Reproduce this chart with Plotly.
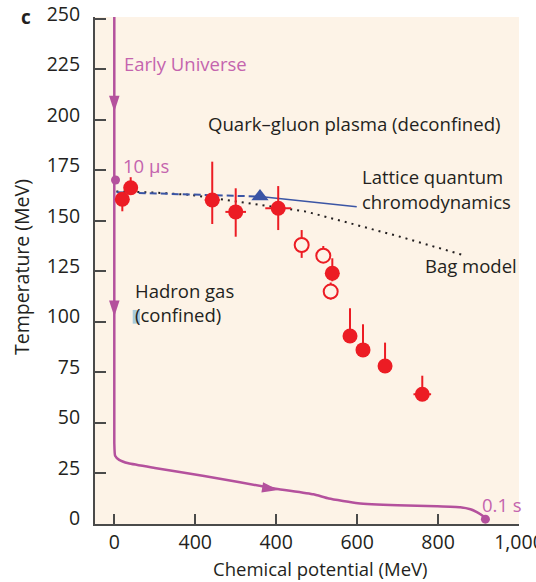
import plotly.graph_objects as go

# ---------------- data ----------------
# Early-Universe trajectory (chemical potential MeV, temperature MeV)
eu_mu = [0, 0, 2, 12, 35, 100, 222, 399, 492, 530, 602, 700, 797, 855, 880, 897, 910, 917]
eu_T = [251, 40, 33.5, 31.5, 29.8, 27.5, 23.5, 17.2, 14.4, 12.3, 10.0, 9.0, 8.5, 8.0, 7.0, 5.5, 3.8, 2.1]
eu_dots_mu = [3, 917]
eu_dots_T = [170.2, 2.1]
arrow_down_mu = [0, 0]
arrow_down_T = [204.0, 102.5]
arrow_right_mu = [405]
arrow_right_T = [16.6]

# Bag model curve
bag_mu = [5, 100, 190, 260, 336, 418, 475, 582, 706, 862]
bag_T = [164.5, 164.0, 162.8, 160.8, 158.7, 156.2, 154.5, 148.8, 142.1, 133.0]

# Lattice QCD
lat_dash_mu = [6, 360]
lat_dash_T = [164.1, 162.0]
lat_solid_mu = [360, 599]
lat_solid_T = [162.0, 157.0]
tri_mu = [360]
tri_T = [162.0]

# Freeze-out points (filled)
fill_mu = [19.8, 40.5, 242, 300, 405, 538.7, 582.4, 614.5, 669, 761]
fill_T = [160.7, 166.4, 160.3, 154.4, 156.2, 124.0, 92.9, 86.0, 78.0, 64.0]
fill_Tplus = [0, 5.2, 19.0, 11.7, 11.0, 7.4, 13.7, 12.7, 11.6, 9.2]
fill_Tminus = [6, 0, 11.9, 12.3, 10.8, 4, 0, 0, 0, 0]
fill_muerr = [0, 0, 18.5, 25.5, 32, 0, 0, 0, 0, 21.8]

# Freeze-out points (open)
open_mu = [463, 516.4, 534.7]
open_T = [138.0, 132.7, 114.9]
open_Tplus = [7.4, 4.8, 4.5]
open_Tminus = [6.4, 3.0, 4.0]

x_tickvals = [0, 200, 400, 600, 800, 1000]
x_ticktext = ["0", "400", "400", "600", "800", "1,000"]
y_tickvals = [0, 25, 50, 75, 100, 125, 150, 175, 200, 225, 250]
y_ticktext = [str(v) for v in y_tickvals]

# ---------------- style ----------------
FONT = "Open Sans"
TXT = "#231f20"
AX = "#4a4a4a"
RED = "#ec1c24"
BLUE = "#3b55a5"
MAG = "#b4519d"
MAGT = "#c464ae"
BG = "#fdf3e7"
LBL = 18.5

fig = go.Figure()

fig.add_trace(go.Scatter(x=bag_mu, y=bag_T, mode="lines",
                         line=dict(color=TXT, width=2, dash="2px,5px"),
                         hoverinfo="skip", showlegend=False))
fig.add_trace(go.Scatter(x=lat_dash_mu, y=lat_dash_T, mode="lines",
                         line=dict(color=BLUE, width=2, dash="7px,4px"),
                         hoverinfo="skip", showlegend=False))
fig.add_trace(go.Scatter(x=lat_solid_mu, y=lat_solid_T, mode="lines",
                         line=dict(color=BLUE, width=1.5),
                         hoverinfo="skip", showlegend=False))
fig.add_trace(go.Scatter(x=eu_mu, y=eu_T, mode="lines",
                         line=dict(color=MAG, width=2.5, shape="spline", smoothing=0.4),
                         hoverinfo="skip", showlegend=False))
fig.add_trace(go.Scatter(x=eu_dots_mu, y=eu_dots_T, mode="markers",
                         marker=dict(color=MAG, size=9),
                         hoverinfo="skip", showlegend=False))
fig.add_trace(go.Scatter(x=arrow_down_mu, y=arrow_down_T, mode="markers",
                         marker=dict(color=MAG, size=17, symbol="arrow", angle=180,
                                     line=dict(width=0)),
                         hoverinfo="skip", showlegend=False))
fig.add_trace(go.Scatter(x=arrow_right_mu, y=arrow_right_T, mode="markers",
                         marker=dict(color=MAG, size=17, symbol="arrow", angle=99,
                                     line=dict(width=0)),
                         hoverinfo="skip", showlegend=False))

fig.add_trace(go.Scatter(x=open_mu, y=open_T, mode="markers",
                         marker=dict(color=BG, size=14, symbol="circle",
                                     line=dict(color=RED, width=2)),
                         error_y=dict(type="data", symmetric=False, array=open_Tplus,
                                      arrayminus=open_Tminus, color=RED, thickness=2, width=0),
                         hoverinfo="skip", showlegend=False))
fig.add_trace(go.Scatter(x=fill_mu, y=fill_T, mode="markers",
                         marker=dict(color=RED, size=15, line=dict(width=0)),
                         error_y=dict(type="data", symmetric=False, array=fill_Tplus,
                                      arrayminus=fill_Tminus, color=RED, thickness=2, width=0),
                         error_x=dict(type="data", array=fill_muerr, color=RED,
                                      thickness=2, width=0),
                         hoverinfo="skip", showlegend=False))
fig.add_trace(go.Scatter(x=tri_mu, y=tri_T, mode="markers",
                         marker=dict(color=BLUE, size=15, symbol="triangle-up", line=dict(width=0)),
                         hoverinfo="skip", showlegend=False))

def txt(x, y, s, color=TXT, size=LBL, xanchor="left", **kw):
    fig.add_annotation(x=x, y=y, text=s, showarrow=False, xanchor=xanchor, yanchor="middle",
                       font=dict(family=FONT, size=size, color=color), **kw)

txt(19.3, 228.2, "Early Universe", color=MAGT)
txt(16.8, 177.6, "10 µs", color=MAGT)
txt(227, 198.3, "Quark\u2013gluon plasma (deconfined)", size=18.6)
txt(607, 171.9, "Lattice quantum")
txt(607, 159.5, "chromodynamics")
txt(762, 127.6, "Bag model")
txt(45.5, 115.2, "Hadron gas")
txt(45.5, 103.3, "(confined)")
txt(903.6, 9.5, "0.1 s", color=MAGT)

# highlight behind "("
fig.add_shape(type="rect", x0=45.5, x1=63.5, y0=99, y1=105.8, xref="x", yref="y",
              fillcolor="#a9cbdb", line=dict(width=0), layer="below")

# panel letter and axis titles
fig.add_annotation(x=(26 - 95) / 424, y=(524 - 17) / 507, xref="paper", yref="paper",
                   text="<b>c</b>", showarrow=False, xanchor="center", yanchor="middle",
                   font=dict(family=FONT, size=19, color=TXT))
fig.add_annotation(x=(320 - 95) / 424, y=(524 - 568) / 507, xref="paper", yref="paper",
                   text="Chemical potential (MeV)", showarrow=False, xanchor="center",
                   yanchor="middle", font=dict(family=FONT, size=18.5, color=TXT))
fig.add_annotation(x=(21 - 95) / 424, y=(524 - 267) / 507, xref="paper", yref="paper",
                   text="Temperature (MeV)", showarrow=False, xanchor="center",
                   yanchor="middle", textangle=-90, font=dict(family=FONT, size=19.5, color=TXT))

fig.update_layout(
    template="none",
    width=536, height=582, autosize=False,
    margin=dict(l=95, r=17, t=17, b=58, pad=0),
    paper_bgcolor="white", plot_bgcolor=BG,
    font=dict(family=FONT, size=18, color=TXT),
    showlegend=False,
    xaxis=dict(range=[-47.7, 1000], tickvals=x_tickvals, ticktext=x_ticktext,
               ticks="inside", ticklen=10, tickwidth=2, tickcolor=AX,
               showline=True, linecolor=AX, linewidth=2, mirror=False,
               showgrid=False, zeroline=False, automargin=False,
               ticklabeloverflow="allow",
               tickfont=dict(family=FONT, size=19.5, color=TXT)),
    yaxis=dict(range=[-0.3, 251], tickvals=y_tickvals, ticktext=y_ticktext,
               ticks="inside", ticklen=11, tickwidth=2, tickcolor=AX,
               showline=True, linecolor=AX, linewidth=2, mirror=False,
               showgrid=False, zeroline=False, automargin=False,
               ticklabeloverflow="allow",
               ticklabelshift=-5, ticklabelstandoff=9,
               tickfont=dict(family=FONT, size=19.5, color=TXT)),
)

fig.write_html("out.html")
